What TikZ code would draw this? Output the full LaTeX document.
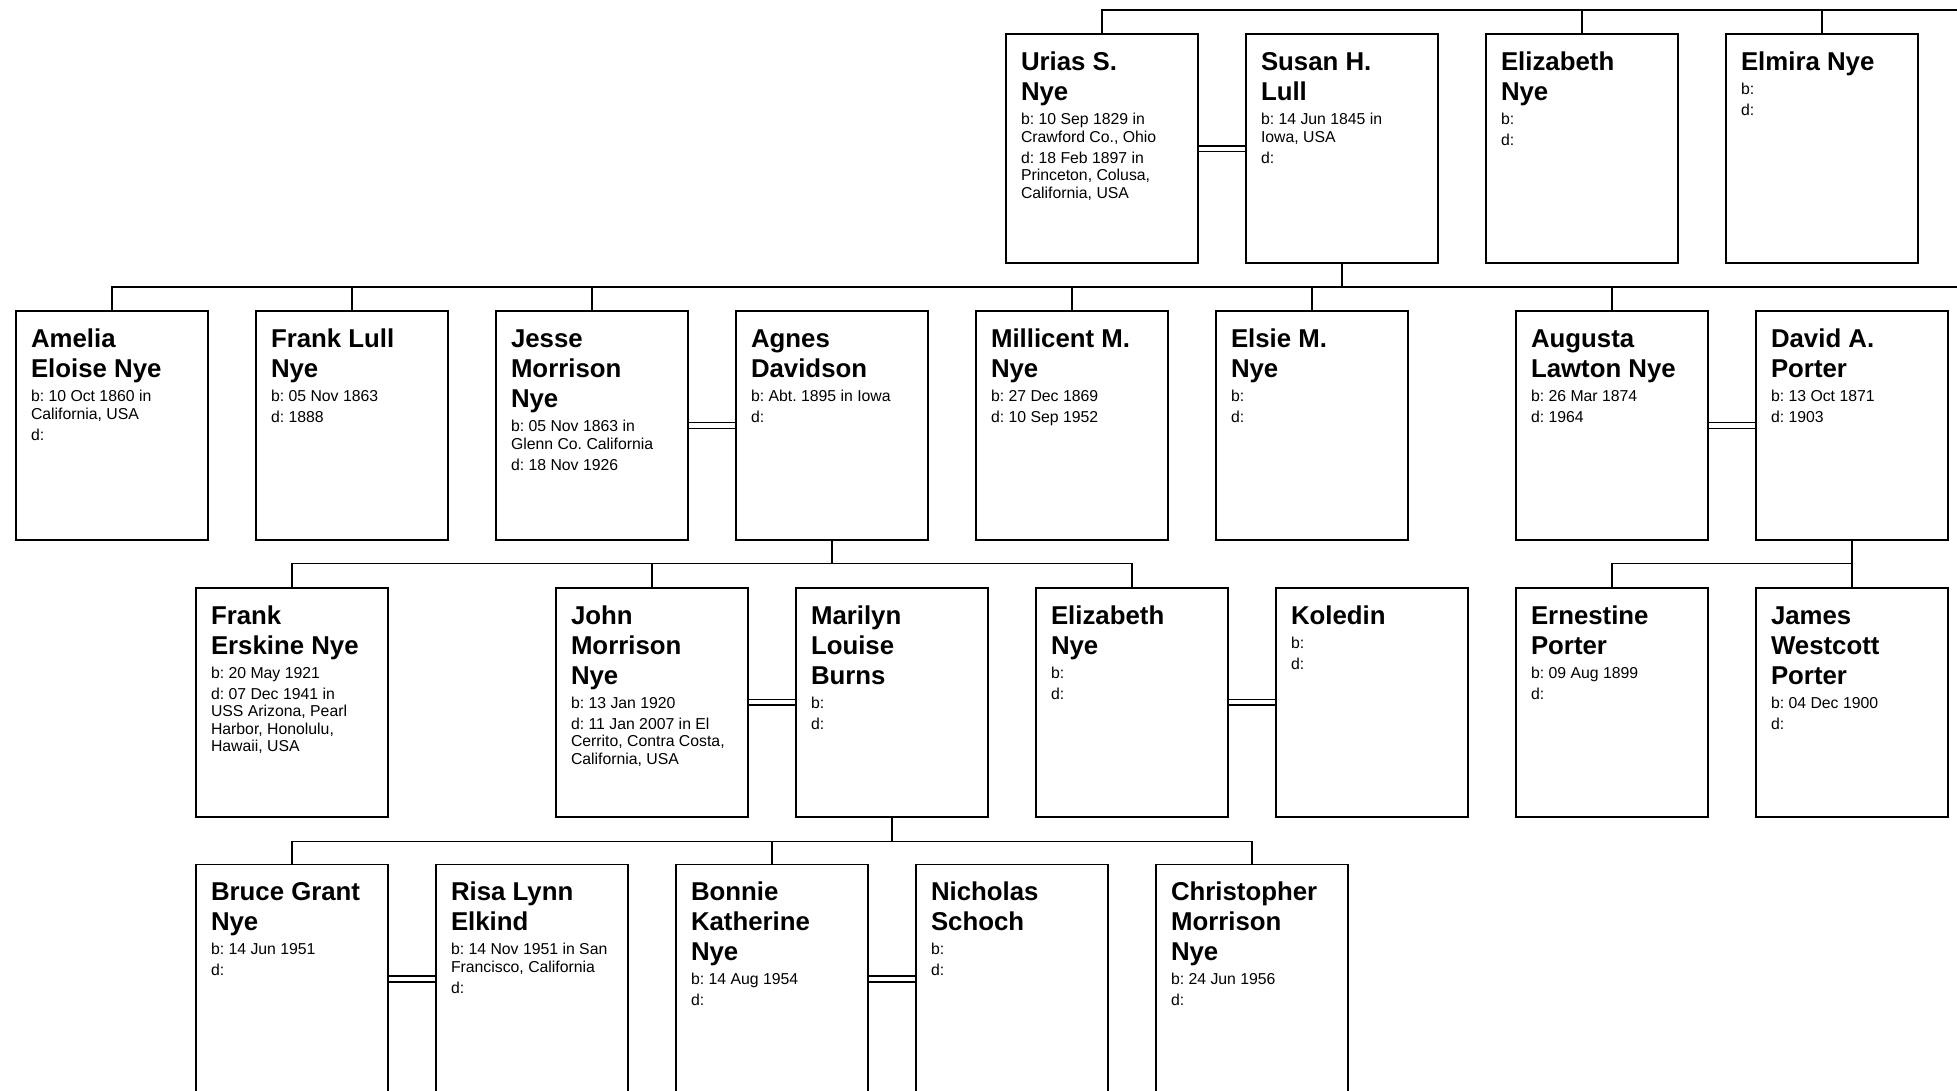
\documentclass[tikz,border=0pt]{standalone}
\usepackage{fontspec}
\setmainfont{Liberation Sans}
\usepackage{tikz}
\usetikzlibrary{
  backgrounds,
  calc,
  positioning
}
\newcommand{\nmfont}{\fontsize{25.8}{30}\selectfont\bfseries
  \spaceskip=0pt\xspaceskip=0pt\frenchspacing}
\newcommand{\dtfont}{\fontsize{15.8}{17.6}\selectfont
  \spaceskip=0pt\xspaceskip=0pt\frenchspacing}
\newcommand{\who}[3]{%
  {\nmfont #1\par}\vspace{6.4pt}%
  {\dtfont #2\par}\vspace{3.4pt}%
  {\dtfont #3\par}}
\tikzset{
  person/.style={draw=black,line width=1.8pt,fill=white,anchor=north west,
    align=left,text width=162pt,inner xsep=15pt,inner ysep=0pt,outer sep=0pt,
    text height=36.4pt,text depth=192.6pt},
  couple/.style={draw=black,double=white,double distance=4.2pt,line width=1.5pt},
  kin/.style={draw=black,line width=1.5pt}
}

\begin{document}
\begin{tikzpicture}[x=1pt,y=1pt,node distance=47.7pt and 48pt]
  \useasboundingbox (0,0) rectangle (1957,-1090);
  \coordinate (edge) at (1975,0);
  % generation 1
  \node[person] (urias) at (1006,-34.3) {\who{Urias S.\\Nye}{b: 10 Sep 1829 in\\Crawford Co., Ohio}{d: 18 Feb 1897 in\\Princeton, Colusa,\\California, USA}};
  \node[person,right=of urias] (susan) {\who{Susan H.\\Lull}{b: 14 Jun 1845 in\\Iowa, USA}{d:}};
  \node[person,right=of susan] (elizabeth) {\who{Elizabeth\\Nye}{b:}{d:}};
  \node[person,right=of elizabeth] (elmira) {\who{Elmira Nye}{b:}{d:}};
  % generation 2
  \node[person] (amelia) at (16,-311) {\who{Amelia\\Eloise Nye}{b: 10 Oct 1860 in\\California, USA}{d:}};
  \node[person,right=of amelia] (franklull) {\who{Frank Lull\\Nye}{b: 05 Nov 1863}{d: 1888}};
  \node[person,right=of franklull] (jesse) {\who{Jesse\\Morrison\\Nye}{b: 05 Nov 1863 in\\Glenn Co. California}{d: 18 Nov 1926}};
  \node[person,right=of jesse] (agnes) {\who{Agnes\\Davidson}{b: Abt. 1895 in Iowa}{d:}};
  \node[person,right=of agnes] (millicent) {\who{Millicent M.\\Nye}{b: 27 Dec 1869}{d: 10 Sep 1952}};
  \node[person,right=of millicent] (elsie) {\who{Elsie M.\\Nye}{b:}{d:}};
  \node[person,right=108pt of elsie] (augusta) {\who{Augusta\\Lawton Nye}{b: 26 Mar 1874}{d: 1964}};
  \node[person,right=of augusta] (david) {\who{David A.\\Porter}{b: 13 Oct 1871}{d: 1903}};
  % generation 3
  \node[person] (frankerskine) at (196,-587.7) {\who{Frank\\Erskine Nye}{b: 20 May 1921}{d: 07 Dec 1941 in\\USS Arizona, Pearl\\Harbor, Honolulu,\\Hawaii, USA}};
  \node[person,right=168pt of frankerskine] (john) {\who{John\\Morrison\\Nye}{b: 13 Jan 1920}{d: 11 Jan 2007 in El\\Cerrito, Contra Costa,\\California, USA}};
  \node[person,right=of john] (marilyn) {\who{Marilyn\\Louise\\Burns}{b:}{d:}};
  \node[person,right=of marilyn] (elizabethnye) {\who{Elizabeth\\Nye}{b:}{d:}};
  \node[person,right=of elizabethnye] (koledin) {\who{Koledin}{b:}{d:}};
  \node[person,right=of koledin] (ernestine) {\who{Ernestine\\Porter}{b: 09 Aug 1899}{d:}};
  \node[person,right=of ernestine] (james) {\who{James\\Westcott\\Porter}{b: 04 Dec 1900}{d:}};
  % generation 4
  \node[person] (bruce) at (196,-864.4) {\who{Bruce Grant\\Nye}{b: 14 Jun 1951}{d:}};
  \node[person,right=of bruce] (risa) {\who{Risa Lynn\\Elkind}{b: 14 Nov 1951 in San\\Francisco, California}{d:}};
  \node[person,right=of risa] (bonnie) {\who{Bonnie\\Katherine\\Nye}{b: 14 Aug 1954}{d:}};
  \node[person,right=of bonnie] (nicholas) {\who{Nicholas\\Schoch}{b:}{d:}};
  \node[person,right=of nicholas] (christopher) {\who{Christopher\\Morrison\\Nye}{b: 24 Jun 1956}{d:}};

  \begin{scope}[on background layer]
    % marriages
    \draw[couple] (urias.east) -- (susan.west);
    \draw[couple] (jesse.east) -- (agnes.west);
    \draw[couple] (augusta.east) -- (david.west);
    \draw[couple] (john.east) -- (marilyn.west);
    \draw[couple] (elizabethnye.east) -- (koledin.west);
    \draw[couple] (bruce.east) -- (risa.west);
    \draw[couple] (bonnie.east) -- (nicholas.west);
    % sibling bars
    \coordinate (bar1) at ($(urias.north)+(0,24.3)$);
    \draw[kin] (urias.north) -- (bar1) -- (bar1 -| edge);
    \draw[kin] (elizabeth.north) -- (elizabeth.north |- bar1)
      (elmira.north) -- (elmira.north |- bar1);
    \coordinate (bar2) at ($(amelia.north)+(0,24)$);
    \draw[kin] (susan.south) -- (susan.south |- bar2);
    \draw[kin] (amelia.north) -- (bar2) -- (bar2 -| edge);
    \draw[kin] (franklull.north) -- (franklull.north |- bar2)
      (jesse.north) -- (jesse.north |- bar2)
      (millicent.north) -- (millicent.north |- bar2)
      (elsie.north) -- (elsie.north |- bar2)
      (augusta.north) -- (augusta.north |- bar2);
    \coordinate (bar3) at ($(frankerskine.north)+(0,24)$);
    \draw[kin] (agnes.south) -- (agnes.south |- bar3);
    \draw[kin] (frankerskine.north) -- (bar3) -| (elizabethnye.north);
    \draw[kin] (john.north) -- (john.north |- bar3);
    \draw[kin] (david.south) -- (david.south |- bar3);
    \draw[kin] (ernestine.north) |- (david.south |- bar3) -- (james.north);
    \coordinate (bar4) at ($(bruce.north)+(0,23)$);
    \draw[kin] (marilyn.south) -- (marilyn.south |- bar4);
    \draw[kin] (bruce.north) -- (bar4) -| (christopher.north);
    \draw[kin] (bonnie.north) -- (bonnie.north |- bar4);
  \end{scope}
\end{tikzpicture}
\end{document}
